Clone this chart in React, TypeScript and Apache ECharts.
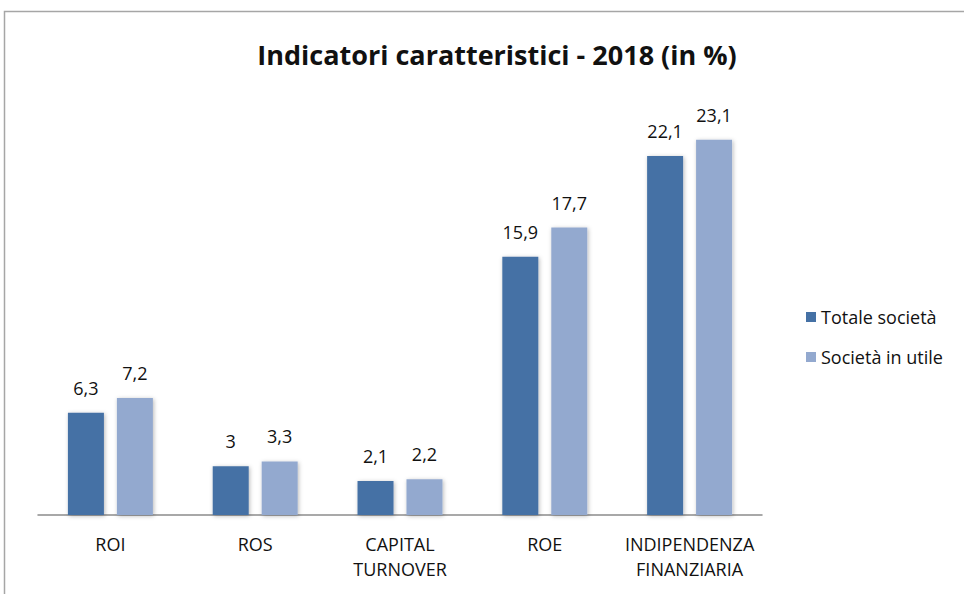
import React, { useEffect, useRef } from "react";
import * as echarts from "echarts";

const categories = ["ROI", "ROS", "CAPITAL\nTURNOVER", "ROE", "INDIPENDENZA\nFINANZIARIA"];
const totaleSocieta = [6.3, 3, 2.1, 15.9, 22.1];
const societaInUtile = [7.2, 3.3, 2.2, 17.7, 23.1];
const seriesNames = ["Totale società", "Società in utile"];
const titleText = "Indicatori caratteristici - 2018 (in %)";

const FONT = "'Open Sans', 'Noto Sans', sans-serif";

export default function App() {
  const ref = useRef<HTMLDivElement>(null);
  useEffect(() => {
    if (!ref.current) return;
    const chart = echarts.init(ref.current, null, { renderer: "svg" });
    const fmt = (p: any) => String(p.value).replace(".", ",");
    const shadow = {
      shadowBlur: 4,
      shadowColor: "rgba(0,0,0,0.28)",
      shadowOffsetX: 1,
      shadowOffsetY: 1,
    };
    const labelStyle = {
      show: true,
      position: "top",
      distance: 16,
      formatter: fmt,
      fontFamily: FONT,
      fontSize: 18,
      color: "#111",
    };
    chart.setOption({
      animation: false,
      backgroundColor: "#ffffff",
      title: {
        text: titleText,
        left: 492,
        textAlign: "center",
        top: 36,
        textStyle: { fontFamily: FONT, fontSize: 27, fontWeight: "bold", color: "#111" },
      },
      graphic: [
        {
          type: "rect",
          shape: { x: 4.5, y: 11.5, width: 1000, height: 1000 },
          style: { fill: "none", stroke: "#a6a6a6", lineWidth: 1.5 },
          silent: true,
        },
      ],
      legend: {
        orient: "vertical",
        left: 801,
        top: 303,
        itemWidth: 10,
        itemHeight: 10,
        itemGap: 22,
        icon: "rect",
        textStyle: { fontFamily: FONT, fontSize: 18, color: "#111" },
        data: seriesNames,
      },
      grid: { left: 38, right: 202, top: 109, bottom: 79, containLabel: false },
      xAxis: {
        type: "category",
        data: categories,
        axisTick: { show: false },
        axisLine: { lineStyle: { color: "#8c8c8c", width: 1.5 } },
        axisLabel: {
          fontFamily: FONT,
          fontSize: 18,
          color: "#111",
          margin: 16,
          lineHeight: 25,
          interval: 0,
        },
      },
      yAxis: {
        type: "value",
        min: 0,
        max: 25,
        show: false,
        splitLine: { show: false },
      },
      series: [
        {
          name: seriesNames[0],
          type: "bar",
          data: totaleSocieta,
          barWidth: 36,
          barGap: "36%",
          itemStyle: { color: "#4571A5", ...shadow },
          label: labelStyle,
        },
        {
          name: seriesNames[1],
          type: "bar",
          data: societaInUtile,
          barWidth: 36,
          itemStyle: { color: "#93A9CF", ...shadow },
          label: labelStyle,
        },
      ],
    });
    return () => chart.dispose();
  }, []);
  return (
    <div
      ref={ref}
      style={{ position: "fixed", left: 0, top: 0, width: 964, height: 594, background: "#fff" }}
    />
  );
}
